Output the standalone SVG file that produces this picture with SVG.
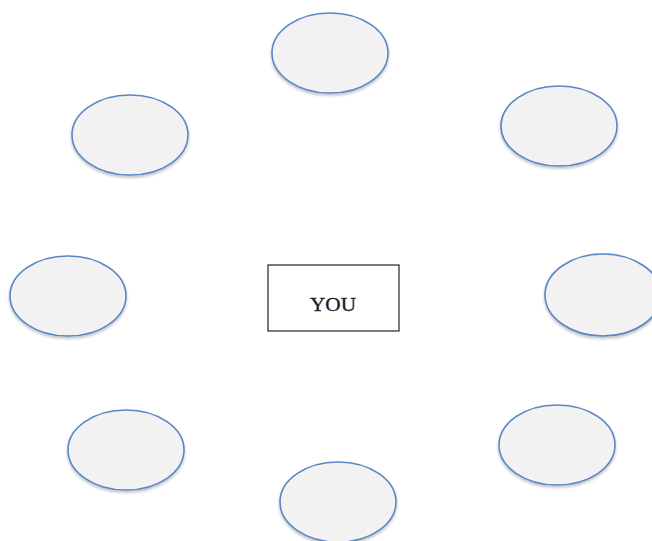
<svg xmlns="http://www.w3.org/2000/svg" width="652" height="541" viewBox="0 0 652 541">
<defs>
<filter id="sh" x="-20%" y="-20%" width="140%" height="150%">
<feGaussianBlur in="SourceAlpha" stdDeviation="1.5"/>
<feOffset dx="0" dy="2" result="b"/>
<feComponentTransfer><feFuncA type="linear" slope="0.25"/></feComponentTransfer>
<feMerge><feMergeNode/><feMergeNode in="SourceGraphic"/></feMerge>
</filter>
</defs>
<style>
.n{fill:#f2f2f2;stroke:#5b87c5;stroke-width:1.6;filter:url(#sh)}
.box{fill:#fff;stroke:#333;stroke-width:1.3}
.t{font-family:"Liberation Serif",serif;font-size:18px;fill:#1a1a2e;stroke:#1a1a2e;stroke-width:0.3;text-anchor:middle}
</style>
<rect width="652" height="541" fill="#fff"/>
<g id="center"><rect class="box" x="268" y="265" width="131" height="66"/><text class="t" x="333" y="311" textLength="46" lengthAdjust="spacingAndGlyphs">YOU</text></g>
<g id="n-top"><ellipse class="n" cx="330" cy="53" rx="58" ry="40"/></g>
<g id="n-upleft"><ellipse class="n" cx="130" cy="135" rx="58" ry="40"/></g>
<g id="n-upright"><ellipse class="n" cx="559" cy="126" rx="58" ry="40"/></g>
<g id="n-left"><ellipse class="n" cx="68" cy="296" rx="58" ry="40"/></g>
<g id="n-right"><ellipse class="n" cx="603" cy="295" rx="58" ry="41"/></g>
<g id="n-lowleft"><ellipse class="n" cx="126" cy="450" rx="58" ry="40"/></g>
<g id="n-lowright"><ellipse class="n" cx="557" cy="445" rx="58" ry="40"/></g>
<g id="n-bottom"><ellipse class="n" cx="338" cy="502" rx="58" ry="40"/></g>
<g id="connectors"></g>
</svg>
